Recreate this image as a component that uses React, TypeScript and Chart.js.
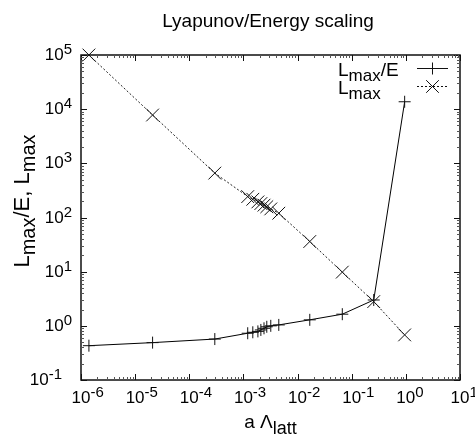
import React, { useEffect, useRef } from 'react';
import { Chart, registerables } from 'chart.js';

Chart.register(...registerables);

// ---- data ----
const latticeSpacing = [1.4e-6, 2.1e-5, 2.96e-4, 1.2e-3, 1.49e-3, 1.85e-3, 2.1e-3, 2.4e-3, 2.7e-3, 3.2e-3, 4.5e-3, 0.0168, 0.067, 0.255, 0.95];
const lmaxOverE = [0.43, 0.49, 0.57, 0.73, 0.76, 0.79, 0.84, 0.9, 0.96, 1.0, 1.04, 1.29, 1.64, 3.0, 1.37e4];
const lmax = [1e5, 7.8e3, 660, 243, 217, 194, 181, 169, 158, 144, 120, 36, 9.8, 2.8, 0.68];
const xTickExponents = [-6, -5, -4, -3, -2, -1, 0, 1];
const yTickExponents = [-1, 0, 1, 2, 3, 4, 5];
const titleText = 'Lyapunov/Energy scaling';
const seriesNames = ['L_max/E', 'L_max'];
const yTitleText = 'L_max/E, L_max';

const FONT = '"Liberation Sans", Arial, sans-serif';

type Seg = { t: string; size: number; dy: number };

function parseRich(s: string, big: number, small: number, subDy: number): Seg[] {
  const segs: Seg[] = [];
  const re = /_([a-z]+)/g;
  let last = 0;
  let m: RegExpExecArray | null;
  while ((m = re.exec(s))) {
    if (m.index > last) segs.push({ t: s.slice(last, m.index), size: big, dy: 0 });
    segs.push({ t: m[1], size: small, dy: subDy });
    last = m.index + m[0].length;
  }
  if (last < s.length) segs.push({ t: s.slice(last), size: big, dy: 0 });
  return segs;
}

function segWidth(ctx: CanvasRenderingContext2D, segs: Seg[]) {
  let w = 0;
  for (const s of segs) {
    ctx.font = `${s.size}px ${FONT}`;
    w += ctx.measureText(s.t).width;
  }
  return w;
}

function drawSegs(ctx: CanvasRenderingContext2D, segs: Seg[], x: number, y: number) {
  let cx = x;
  ctx.textAlign = 'left';
  ctx.textBaseline = 'alphabetic';
  for (const s of segs) {
    ctx.font = `${s.size}px ${FONT}`;
    ctx.fillText(s.t, cx, y + s.dy);
    cx += ctx.measureText(s.t).width;
  }
}

function powSegs(e: number): Seg[] {
  return [
    { t: '10', size: 17, dy: 0 },
    { t: String(e), size: 15, dy: -6 },
  ];
}

const gnuplotPlugin = {
  id: 'gnuplotLook',
  afterDraw(chart: any) {
    const ctx: CanvasRenderingContext2D = chart.ctx;
    const { left, right, top, bottom } = chart.chartArea;
    const xs = chart.scales.x;
    const ys = chart.scales.y;
    ctx.save();
    ctx.strokeStyle = '#111';
    ctx.fillStyle = '#000';

    // frame
    ctx.lineWidth = 1.5;
    ctx.strokeRect(left, top, right - left, bottom - top);

    // ticks
    const MAJ = 6;
    const MIN = 3;
    const major = new Path2D();
    const minor = new Path2D();
    for (let i = 0; i < xTickExponents.length; i++) {
      const e = xTickExponents[i];
      const px = Math.round(xs.getPixelForValue(Math.pow(10, e))) + 0.5;
      major.moveTo(px, bottom); major.lineTo(px, bottom - MAJ);
      major.moveTo(px, top); major.lineTo(px, top + MAJ);
      if (i < xTickExponents.length - 1) {
        for (let k = 2; k <= 9; k++) {
          const mx = Math.round(xs.getPixelForValue(k * Math.pow(10, e))) + 0.5;
          minor.moveTo(mx, bottom); minor.lineTo(mx, bottom - MIN);
          minor.moveTo(mx, top); minor.lineTo(mx, top + MIN);
        }
      }
    }
    for (let i = 0; i < yTickExponents.length; i++) {
      const e = yTickExponents[i];
      const py = Math.round(ys.getPixelForValue(Math.pow(10, e))) + 0.5;
      major.moveTo(left, py); major.lineTo(left + MAJ, py);
      major.moveTo(right, py); major.lineTo(right - MAJ, py);
      if (i < yTickExponents.length - 1) {
        for (let k = 2; k <= 9; k++) {
          const my = Math.round(ys.getPixelForValue(k * Math.pow(10, e))) + 0.5;
          minor.moveTo(left, my); minor.lineTo(left + MIN, my);
          minor.moveTo(right, my); minor.lineTo(right - MIN, my);
        }
      }
    }
    ctx.lineWidth = 1;
    ctx.strokeStyle = '#111';
    ctx.stroke(major);
    ctx.strokeStyle = '#555';
    ctx.stroke(minor);
    ctx.strokeStyle = '#111';

    // x tick labels
    for (const e of xTickExponents) {
      const px = xs.getPixelForValue(Math.pow(10, e));
      drawSegs(ctx, powSegs(e), px - 9.5, bottom + 23);
    }
    // y tick labels
    for (const e of yTickExponents) {
      const py = ys.getPixelForValue(Math.pow(10, e));
      const segs = powSegs(e);
      const w = segWidth(ctx, segs) + (e < 0 ? 10 : 0);
      drawSegs(ctx, segs, left - 9 - w, py + 5);
    }

    // title
    ctx.font = `19px ${FONT}`;
    ctx.textAlign = 'center';
    ctx.fillText(titleText, 268, 27);

    // x axis title
    const xt: Seg[] = [
      { t: 'a \u039B', size: 19, dy: 0 },
      { t: 'latt', size: 18, dy: 6 },
    ];
    const xw = segWidth(ctx, xt);
    drawSegs(ctx, xt, (left + right) / 2 - xw / 2, 428);

    // y axis title
    const yt: Seg[] = parseRich(yTitleText, 22, 20, 6);
    const yw = segWidth(ctx, yt);
    ctx.save();
    ctx.translate(29, 201);
    ctx.rotate(-Math.PI / 2);
    drawSegs(ctx, yt, -yw / 2, 0);
    ctx.restore();

    // legend
    const rows = [68.5, 86.5];
    for (let i = 0; i < seriesNames.length; i++) {
      const y = rows[i];
      drawSegs(ctx, parseRich(seriesNames[i], 19, 17, 5), 338, y + 7);
      ctx.beginPath();
      ctx.lineWidth = 1;
      ctx.setLineDash(i === 0 ? [] : [2, 2]);
      ctx.moveTo(417, y);
      ctx.lineTo(448, y);
      ctx.stroke();
      ctx.setLineDash([]);
      const cx = 432.5;
      ctx.beginPath();
      if (i === 0) {
        ctx.moveTo(cx - 6, y); ctx.lineTo(cx + 6, y);
        ctx.moveTo(cx, y - 6); ctx.lineTo(cx, y + 6);
      } else {
        const d = 6.3;
        ctx.moveTo(cx - d, y - d); ctx.lineTo(cx + d, y + d);
        ctx.moveTo(cx - d, y + d); ctx.lineTo(cx + d, y - d);
      }
      ctx.stroke();
    }
    ctx.restore();
  },
};

export default function App() {
  const canvasRef = useRef<HTMLCanvasElement | null>(null);

  useEffect(() => {
    const canvas = canvasRef.current;
    if (!canvas) return;
    const chart = new Chart(canvas, {
      type: 'line',
      data: {
        datasets: [
          {
            label: seriesNames[0],
            data: latticeSpacing.map((x, i) => ({ x, y: lmaxOverE[i] })),
            borderColor: '#000',
            borderWidth: 1,
            pointStyle: 'cross',
            pointRadius: 6,
            pointBorderWidth: 1,
            pointBorderColor: '#111',
            pointBackgroundColor: 'rgba(0,0,0,0)',
            tension: 0,
            clip: false,
          },
          {
            label: seriesNames[1],
            data: latticeSpacing.map((x, i) => ({ x, y: lmax[i] })),
            borderColor: '#222',
            borderWidth: 1,
            borderDash: [2, 2],
            pointStyle: 'crossRot',
            pointRadius: 9,
            pointBorderWidth: 1,
            pointBorderColor: '#111',
            pointBackgroundColor: 'rgba(0,0,0,0)',
            tension: 0,
            clip: false,
          },
        ],
      },
      options: {
        responsive: false,
        animation: false,
        events: [],
        layout: { padding: { left: 81, right: 15, top: 55, bottom: 65 } },
        plugins: {
          legend: { display: false },
          title: { display: false },
          tooltip: { enabled: false },
        },
        scales: {
          x: { type: 'logarithmic', min: 1e-6, max: 10, display: false },
          y: { type: 'logarithmic', min: 0.1, max: 1e5, display: false },
        },
      },
      plugins: [gnuplotPlugin],
    });
    return () => chart.destroy();
  }, []);

  return (
    <div style={{ position: 'fixed', left: 0, top: 0, width: 475, height: 445, background: '#fff' }}>
      <canvas ref={canvasRef} width={475} height={445} style={{ display: 'block', width: 475, height: 445 }} />
    </div>
  );
}
